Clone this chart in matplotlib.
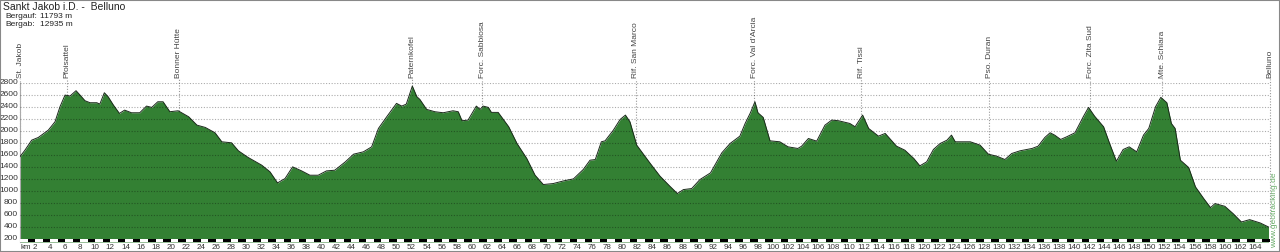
import matplotlib.pyplot as plt
from matplotlib.patches import Rectangle
import numpy as np

plt.rcParams['font.family'] = ['Liberation Sans', 'DejaVu Sans']

# profile (km, m)
km = [0, 0.66, 1.55, 2.43, 3.76, 4.65, 5.31, 5.98, 6.64, 7.44, 7.97, 8.63, 9.3, 10.2, 10.6,
      11.2, 11.7, 12.4, 13.2, 13.9, 14.8, 15.9, 16.8, 17.5, 18.3, 19.0, 19.9, 21.0, 22.4,
      23.5, 24.6, 25.9, 26.8, 28.1, 29.0, 30.3, 32.1, 33.2, 34.2, 35.2, 36.2, 37.4, 38.5,
      39.6, 40.7, 41.8, 43.2, 44.3, 45.6, 46.7, 47.6, 48.7, 50.0, 50.7, 51.3, 52.1, 52.7,
      53.1, 54.0, 55.1, 56.2, 57.5, 58.2, 58.7, 59.5, 60.6, 61.1, 61.5, 62.2, 62.6, 63.5,
      64.9, 66.0, 67.3, 68.4, 69.5, 70.8, 72.2, 73.5, 74.8, 75.7, 76.4, 77.2, 77.7, 78.8,
      79.7, 80.4, 81.0, 81.9, 83.7, 85.0, 86.3, 87.3, 88.1, 89.2, 90.3, 91.7, 93.2, 94.3,
      95.6, 96.3, 97.0, 97.6, 98.0, 98.7, 99.6, 100.9, 102.0, 103.3, 103.8, 104.7, 105.8,
      106.9, 107.8, 108.7, 110.2, 110.9, 111.9, 112.7, 114.0, 114.9, 116.4, 117.5, 118.7,
      119.5, 120.4, 121.3, 122.2, 123.1, 123.7, 124.2, 126.2, 127.5, 128.6, 129.7, 130.8,
      131.7, 132.8, 134.4, 135.2, 136.1, 136.8, 137.4, 138.2, 139.0, 140.1, 141.2, 141.9,
      142.7, 143.9, 144.7, 145.6, 146.5, 147.3, 148.3, 149.2, 149.9, 150.8, 151.5, 152.3,
      152.9, 153.4, 154.1, 155.2, 156.1, 157.2, 158.1, 158.7, 160.0, 161.1, 162.2, 163.3,
      164.7, 165.8]
elev = [1570, 1678, 1844, 1889, 2011, 2150, 2400, 2594, 2578, 2667, 2594, 2500, 2467, 2467, 2444,
        2633, 2567, 2428, 2289, 2344, 2300, 2300, 2411, 2389, 2483, 2483, 2317, 2333, 2233,
        2094, 2056, 1967, 1817, 1800, 1667, 1556, 1428, 1317, 1133, 1206, 1400, 1333, 1261,
        1261, 1333, 1344, 1483, 1611, 1650, 1733, 2039, 2233, 2456, 2411, 2444, 2744, 2567,
        2522, 2356, 2317, 2300, 2333, 2317, 2167, 2178, 2411, 2356, 2411, 2389, 2306, 2306,
        2067, 1789, 1539, 1261, 1106, 1122, 1167, 1200, 1356, 1511, 1522, 1817, 1833, 2011,
        2189, 2261, 2150, 1761, 1456, 1244, 1078, 956, 1022, 1039, 1189, 1300, 1633, 1789,
        1911, 2122, 2300, 2483, 2300, 2222, 1833, 1817, 1733, 1706, 1744, 1872, 1828,
        2094, 2178, 2167, 2122, 2067, 2261, 2039, 1911, 1956, 1744, 1678, 1539,
        1417, 1483, 1689, 1789, 1844, 1928, 1817, 1817, 1761, 1611, 1578, 1522,
        1622, 1667, 1706, 1744, 1889, 1967, 1928, 1856, 1900, 1967, 2233, 2389,
        2244, 2067, 1789, 1494, 1689, 1733, 1650, 1928, 2039, 2400, 2556, 2467,
        2122, 2039, 1511, 1389, 1067, 872, 722, 789, 744, 622, 483, 522,
        467, 400]

waypoints = ['St. Jakob', 'Pfoisattel', 'Bonner Hütte', 'Paternkofel', 'Forc. Sabbiosa',
             'Rif. San Marco', "Forc. Val d'Arcia", 'Rif. Tissi', 'Pso. Duran',
             'Forc. Zita Sud', 'Mte. Schiara', 'Belluno']
waypoint_km = [0, 6.2, 21.1, 52.1, 61.4, 81.8, 97.5, 111.7, 128.7, 142.1, 151.7, 166]

yticks = list(range(200, 2801, 200))
xticks = list(range(2, 165, 2))

fig = plt.figure(figsize=(12.8, 2.52), dpi=100)
ax = fig.add_axes([20 / 1280, 10 / 252, 1250 / 1280, 159.3 / 252])
ax.set_xlim(0, 166)
ax.set_ylim(150, 2800)

green = '#338033'
ax.fill_between(km, 150, elev, color=green, lw=0, zorder=2)
ax.plot(km, elev, color='#1a2a1a', lw=0.7, zorder=3)

# grid and elevation labels
ytrans = ax.get_yaxis_transform()
for v in yticks:
    ax.axhline(v, color='k', alpha=0.33, lw=0.8, ls=(0, (1, 1.5)), zorder=4)
    ax.text(-2 / 1250, v, str(v), transform=ytrans, ha='right', va='center',
            fontsize=6, color='#333')

# waypoint markers
for name, k in zip(waypoints, waypoint_km):
    top = np.interp(k, km, elev)
    ax.plot([k, k], [top, 2860], color='#999', lw=0.8, ls=(0, (1, 1.5)),
            clip_on=False, zorder=1)
    ax.text(k, 2880, name, rotation=90, ha='center', va='bottom', fontsize=6,
            color='#444', clip_on=False)

# black/white km band
ax.bar(range(0, 166), 52, width=1, bottom=150, align='edge', color='white', lw=0, zorder=5)
ax.bar(range(1, 166, 2), 52, width=1, bottom=150, align='edge', color='black', lw=0, zorder=6)

ax.set_xticks([])
ax.set_yticks([])
for s in ['top', 'right', 'bottom']:
    ax.spines[s].set_visible(False)
ax.spines['left'].set_color('#aaa')
ax.spines['left'].set_linewidth(0.8)

xtrans = ax.get_xaxis_transform()
ax.text(0.1, -2 / 159.3, 'km', transform=xtrans, ha='left', va='top', fontsize=5.8, color='#333')
for t in xticks:
    ax.text(t, -2 / 159.3, str(t), transform=xtrans, ha='center', va='top',
            fontsize=5.8, color='#333')

fig.text(3 / 1280, 1 - 6.5 / 252, 'Sankt Jakob i.D. -  Belluno', fontsize=7.5, va='center', color='#222')
fig.text(5 / 1280, 1 - 16.5 / 252, 'Bergauf:', fontsize=6, va='center', color='#222')
fig.text(40 / 1280, 1 - 16.5 / 252, '11793 m', fontsize=6, va='center', color='#222')
fig.text(5 / 1280, 1 - 24 / 252, 'Bergab:', fontsize=6, va='center', color='#222')
fig.text(40 / 1280, 1 - 24 / 252, '12935 m', fontsize=6, va='center', color='#222')
fig.text(1275 / 1280, 1 - 210 / 252, 'www.geotracking.de', rotation=90, fontsize=6,
         ha='center', va='center', color='#66aa66')

fig.add_artist(Rectangle((0, 0), 1, 1, transform=fig.transFigure, fill=False,
                         edgecolor='#888', lw=1.5))

fig.savefig('out.png', dpi=100)
